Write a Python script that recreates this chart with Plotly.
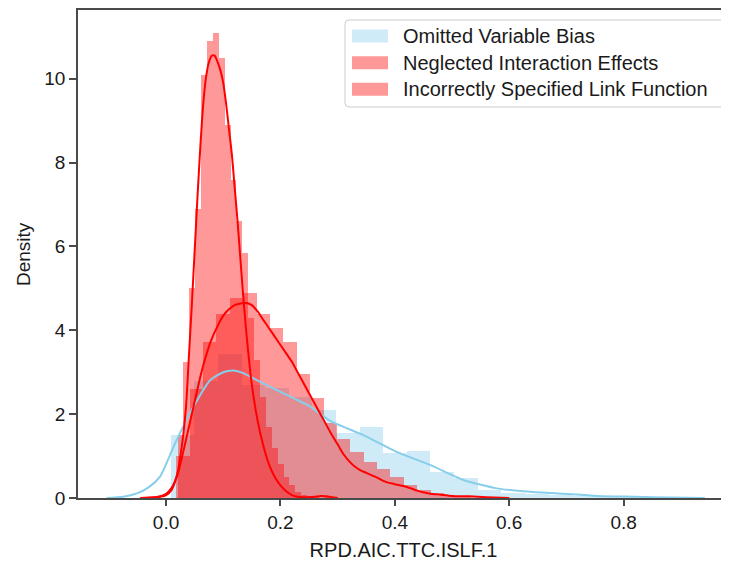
import plotly.graph_objects as go

# ---------------- data ----------------
# Omitted Variable Bias (blue) histogram: bin edges and densities
ovb_edges = [0.008, 0.0493, 0.0906, 0.1319, 0.1732, 0.2145, 0.2558, 0.2971,
             0.3384, 0.3797, 0.4210, 0.4623, 0.5036, 0.5449, 0.5862, 0.6275,
             0.6688, 0.7101, 0.7514, 0.7927, 0.8340]
ovb_density = [1.50, 2.80, 3.43, 2.70, 2.62, 2.40, 2.10, 1.55, 1.70, 1.07,
               1.13, 0.63, 0.47, 0.19, 0.12, 0.10, 0.06, 0.05, 0.03, 0.02]
ovb_kde_x = [-0.104, -0.075, -0.051, -0.03, -0.0105, 0.0157, 0.048, 0.077, 0.1,
             0.1177, 0.135, 0.1585, 0.19, 0.2226, 0.25, 0.287, 0.345, 0.403,
             0.4615, 0.52, 0.578, 0.636, 0.695, 0.753, 0.82, 0.88, 0.942]
ovb_kde_y = [0.0, 0.03, 0.11, 0.26, 0.51, 1.30, 2.18, 2.81, 3.0, 3.04, 2.98,
             2.81, 2.6, 2.38, 2.2, 1.84, 1.50, 1.10, 0.79, 0.43, 0.23, 0.15,
             0.10, 0.05, 0.03, 0.01, 0.0]

# Neglected Interaction Effects (red, narrow peak)
nie_edges = [0.0200, 0.0303, 0.0406, 0.0509, 0.0612, 0.0715, 0.0818, 0.0921,
             0.1024, 0.1127, 0.1230, 0.1333, 0.1436, 0.1539, 0.1642, 0.1745,
             0.1848, 0.1951, 0.2054, 0.2157, 0.2260, 0.2363, 0.2466, 0.2569,
             0.2672, 0.2775, 0.2878, 0.2981]
nie_density = [1.5, 3.25, 5.0, 6.9, 10.08, 10.90, 11.09, 10.50, 8.9, 7.58,
               6.6, 5.84, 4.3, 3.3, 2.4, 1.7, 1.2, 0.8, 0.5, 0.3, 0.15, 0.08,
               0.04, 0.02, 0.0, 0.05, 0.03]
nie_kde_x = [-0.045, -0.025, -0.01, 0.0, 0.01, 0.02, 0.025, 0.03, 0.035, 0.04,
             0.045, 0.05, 0.055, 0.06, 0.065, 0.07, 0.075, 0.08, 0.085, 0.09,
             0.095, 0.10, 0.105, 0.11, 0.115, 0.12, 0.125, 0.13, 0.135, 0.14,
             0.145, 0.15, 0.16, 0.17, 0.18, 0.19, 0.20, 0.21, 0.22, 0.23, 0.24,
             0.25, 0.26, 0.27, 0.28, 0.29, 0.30]
nie_kde_y = [0.0, 0.01, 0.03, 0.07, 0.2, 0.6, 1.0, 1.5, 2.2, 3.4, 4.6, 5.9,
             7.2, 8.4, 9.4, 10.05, 10.4, 10.55, 10.55, 10.4, 10.2, 9.9, 9.4,
             8.8, 8.2, 7.4, 6.6, 5.7, 4.8, 4.0, 3.3, 2.7, 1.85, 1.25, 0.8, 0.5,
             0.3, 0.16, 0.07, 0.03, 0.02, 0.02, 0.03, 0.05, 0.04, 0.02, 0.0]

# Incorrectly Specified Link Function (red, wider)
islf_edges = [0.0179, 0.0413, 0.0647, 0.0881, 0.1115, 0.1349, 0.1583, 0.1817,
              0.2051, 0.2285, 0.2519, 0.2753, 0.2987, 0.3221, 0.3455, 0.3689,
              0.3923, 0.4157, 0.4391, 0.4625, 0.4859, 0.5093, 0.5327]
islf_density = [1.0, 2.6, 3.73, 4.40, 4.77, 4.89, 4.40, 4.05, 3.73, 2.95,
                2.38, 1.78, 1.4, 1.1, 0.85, 0.7, 0.5, 0.32, 0.2, 0.12, 0.05,
                0.03]
islf_kde_x = [-0.045, -0.025, -0.01, 0.0, 0.01, 0.02, 0.03, 0.04, 0.05, 0.06,
              0.07, 0.08, 0.09, 0.10, 0.11, 0.12, 0.13, 0.14, 0.15, 0.16, 0.17,
              0.18, 0.19, 0.20, 0.21, 0.22, 0.23, 0.24, 0.25, 0.26, 0.27, 0.28,
              0.29, 0.30, 0.31, 0.32, 0.33, 0.34, 0.35, 0.36, 0.37, 0.38, 0.39,
              0.40, 0.42, 0.44, 0.46, 0.48, 0.50, 0.53, 0.56, 0.60]
islf_kde_y = [0.0, 0.01, 0.04, 0.1, 0.25, 0.55, 1.1, 1.7, 2.3, 2.9, 3.4, 3.8,
              4.1, 4.35, 4.5, 4.6, 4.64, 4.65, 4.6, 4.45, 4.25, 4.05, 3.85,
              3.65, 3.45, 3.25, 3.0, 2.75, 2.5, 2.25, 2.0, 1.75, 1.5, 1.28,
              1.05, 0.88, 0.75, 0.66, 0.6, 0.54, 0.48, 0.41, 0.36, 0.33, 0.27,
              0.17, 0.11, 0.08, 0.05, 0.04, 0.02, 0.0]

x_tick_vals = [0.0, 0.2, 0.4, 0.6, 0.8]
x_tick_text = ["0.0", "0.2", "0.4", "0.6", "0.8"]
y_tick_vals = [0, 2, 4, 6, 8, 10]
y_tick_text = ["0", "2", "4", "6", "8", "10"]

series_names = ["Omitted Variable Bias", "Neglected Interaction Effects",
                "Incorrectly Specified Link Function"]
x_label = "RPD.AIC.TTC.ISLF.1"
y_label = "Density"

# ---------------- styling ----------------
FONT = "Liberation Sans, Arial, sans-serif"
BLUE = "#87CEEB"
RED = "#FF0000"
BLUE_FILL = "rgba(135,206,235,0.4)"
RED_FILL = "rgba(255,0,0,0.4)"
AXIS = "#4a4a4a"
TEXT = "#1a1a1a"

# the page body keeps its default 8px margin, so the figure is 8px smaller
OFF = 8
W, H = 729 - OFF, 566 - OFF
ML, MR, MT, MB = 78 - OFF, 0, 10 - OFF, 68
X_RANGE = [-0.154, 0.9843]
Y_RANGE = [0, 11.64]

fig = go.Figure()


def add_hist(edges, dens, fill, name):
    centers = [(a + b) / 2 for a, b in zip(edges[:-1], edges[1:])]
    widths = [(b - a) for a, b in zip(edges[:-1], edges[1:])]
    fig.add_trace(go.Bar(x=centers, y=dens, width=widths, name=name,
                         marker=dict(color=fill, line=dict(width=0)),
                         showlegend=False, hoverinfo="skip"))


def add_kde(xs, ys, color, name):
    fig.add_trace(go.Scatter(x=xs, y=ys, mode="lines", name=name,
                             line=dict(color=color, width=2, shape="spline",
                                       smoothing=0.6),
                             showlegend=False, hoverinfo="skip"))


add_hist(ovb_edges, ovb_density, BLUE_FILL, series_names[0])
add_kde(ovb_kde_x, ovb_kde_y, BLUE, series_names[0])
add_hist(islf_edges, islf_density, RED_FILL, series_names[2])
add_kde(islf_kde_x, islf_kde_y, RED, series_names[2])
add_hist(nie_edges, nie_density, RED_FILL, series_names[1])
add_kde(nie_kde_x, nie_kde_y, RED, series_names[1])

fig.update_layout(
    width=W, height=H,
    margin=dict(l=ML, r=MR, t=MT, b=MB, pad=0),
    paper_bgcolor="white", plot_bgcolor="white",
    barmode="overlay", bargap=0,
    font=dict(family=FONT, size=19, color=TEXT),
    showlegend=False,
)
fig.update_xaxes(
    range=X_RANGE, showgrid=False, zeroline=False,
    showline=True, linecolor=AXIS, linewidth=1.5, mirror=True,
    ticks="outside", ticklen=6, tickwidth=1.5, tickcolor=AXIS,
    tickvals=x_tick_vals, ticktext=x_tick_text,
    tickfont=dict(size=19, family=FONT, color=TEXT),
    title=dict(text=x_label, font=dict(size=20, family=FONT),
               standoff=11),
)
fig.update_yaxes(
    range=Y_RANGE, showgrid=False, zeroline=False,
    showline=True, linecolor=AXIS, linewidth=1.5,
    ticks="outside", ticklen=7, tickwidth=1.5, tickcolor=AXIS,
    tickvals=y_tick_vals, ticktext=y_tick_text,
    tickfont=dict(size=19, family=FONT, color=TEXT),
)

# ---------------- positions given in reference-page pixels ----------------
PW = W - ML - MR
PH = H - MT - MB


def px(x):
    return (x - OFF - ML) / PW


def py(y):
    return (H - MB - (y - OFF)) / PH


# y-axis title, centred on the axes as matplotlib does
fig.add_annotation(x=px(23), y=0.5, xref="paper", yref="paper",
                   text=y_label, showarrow=False, textangle=-90,
                   xanchor="center", yanchor="middle",
                   font=dict(size=19, family=FONT, color=TEXT))


def rounded_rect(x0, y0, x1, y1, r):
    return (f"M {px(x0 + r)},{py(y0)} L {px(x1 - r)},{py(y0)} "
            f"Q {px(x1)},{py(y0)} {px(x1)},{py(y0 + r)} "
            f"L {px(x1)},{py(y1 - r)} Q {px(x1)},{py(y1)} {px(x1 - r)},{py(y1)} "
            f"L {px(x0 + r)},{py(y1)} Q {px(x0)},{py(y1)} {px(x0)},{py(y1 - r)} "
            f"L {px(x0)},{py(y0 + r)} Q {px(x0)},{py(y0)} {px(x0 + r)},{py(y0)} Z")


fig.add_shape(type="path", xref="paper", yref="paper",
              path=rounded_rect(345, 20, 726, 107, 4),
              fillcolor="rgba(255,255,255,0.8)",
              line=dict(color="#cccccc", width=1))

legend_rows = [36, 62.7, 89.3]
legend_fills = [BLUE_FILL, RED_FILL, RED_FILL]
for name, yc, fc in zip(series_names, legend_rows, legend_fills):
    fig.add_shape(type="rect", xref="paper", yref="paper",
                  x0=px(352), x1=px(388), y0=py(yc - 6.5), y1=py(yc + 6.5),
                  fillcolor=fc, line=dict(width=0))
    fig.add_annotation(x=px(401), y=py(yc), xref="paper", yref="paper",
                       text=name, showarrow=False, xanchor="left",
                       yanchor="middle",
                       font=dict(size=20, family=FONT, color=TEXT))

fig.write_html("out.html")
